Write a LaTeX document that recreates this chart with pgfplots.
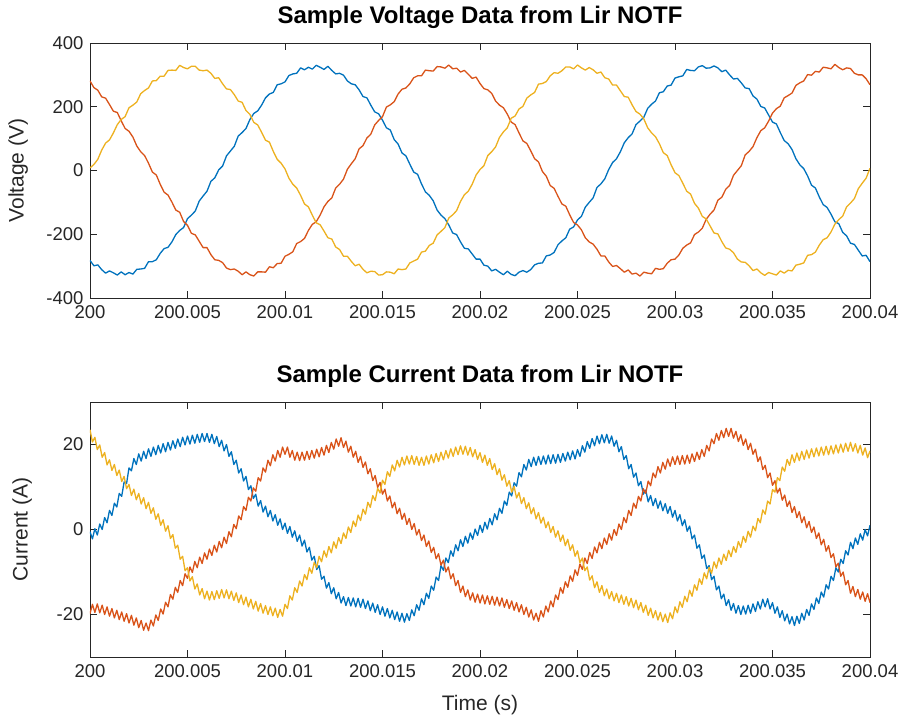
\documentclass[border=0pt]{standalone}
\usepackage{fontspec}
\setmainfont{Liberation Sans}
\usepackage{pgfplots}
\usepackage{pgfplotstable}
\pgfplotsset{compat=1.18}
\definecolor{mblue}{RGB}{0,114,189}
\definecolor{mred}{RGB}{217,83,25}
\definecolor{myellow}{RGB}{237,177,32}
\definecolor{maxis}{RGB}{38,38,38}

\pgfplotstableread{
t a b c
0 -282 281 8
0.2 -299 260 19
0.4 -296 252 35
0.6 -311 231 64
0.8 -322 227 86
1.0 -315 207 96
1.2 -321 186 118
1.4 -328 182 144
1.6 -318 156 160
1.8 -327 132 169
2.0 -320 123 197
2.2 -325 105 205
2.4 -310 77 215
2.6 -309 59 241
2.8 -307 47 251
3.0 -286 23 259
3.2 -286 -5 281
3.4 -280 -14 282
3.6 -260 -43 296
3.8 -245 -68 296
4.0 -241 -77 314
4.2 -224 -99 315
4.4 -201 -124 314
4.6 -188 -131 330
4.8 -179 -160 323
5.0 -151 -172 319
5.2 -140 -197 327
5.4 -127 -202 327
5.6 -96 -222 315
5.8 -80 -242 313
6.0 -65 -242 315
6.2 -34 -264 305
6.4 -23 -280 289
6.6 2 -282 291
6.8 14 -289 272
7.0 46 -306 256
7.2 61 -311 254
7.4 76 -309 238
7.6 108 -316 218
7.8 119 -327 214
8.0 132 -318 188
8.2 160 -327 176
8.4 179 -331 151
8.6 187 -318 143
8.8 205 -318 120
9.0 228 -319 95
9.2 240 -302 89
9.4 245 -305 60
9.6 269 -292 35
9.8 272 -291 23
10.0 278 -269 5
10.2 298 -263 -24
10.4 303 -255 -43
10.6 305 -229 -55
10.8 322 -223 -78
11.0 316 -213 -105
11.2 324 -188 -114
11.4 318 -169 -140
11.6 330 -161 -164
11.8 324 -140 -170
12.0 317 -114 -190
12.2 327 -97 -211
12.4 314 -86 -215
12.6 303 -55 -240
12.8 305 -43 -248
13.0 299 -27 -269
13.2 281 4 -269
13.4 272 21 -285
13.6 269 37 -299
13.8 253 68 -294
14.0 232 78 -310
14.2 228 102 -321
14.4 205 114 -316
14.6 184 143 -317
14.8 178 157 -328
15.0 158 169 -327
15.2 134 199 -318
15.4 127 206 -319
15.6 97 216 -324
15.8 83 240 -309
16.0 55 255 -311
16.2 46 259 -309
16.4 20 272 -290
16.6 -5 291 -284
16.8 -12 297 -278
17.0 -42 297 -256
17.2 -67 315 -253
17.4 -78 313 -235
17.6 -95 312 -228
17.8 -124 326 -202
18.0 -140 325 -191
18.2 -151 321 -179
18.4 -171 331 -149
18.6 -196 319 -139
18.8 -201 321 -126
19.0 -224 309 -97
19.2 -244 314 -76
19.4 -246 302 -65
19.6 -262 289 -43
19.8 -278 293 -14
20.0 -278 273 3
20.2 -297 257 15
20.4 -300 253 47
20.6 -315 242 59
20.8 -310 218 74
21.0 -319 205 104
21.2 -327 197 121
21.4 -316 177 134
21.6 -326 152 164
21.8 -330 144 171
22.0 -319 118 193
22.2 -314 93 201
22.4 -319 85 227
22.6 -311 62 237
22.8 -296 37 245
23.0 -291 27 271
23.2 -290 -3 273
23.4 -268 -18 279
23.6 -265 -47 297
23.8 -257 -56 307
24.0 -233 -81 305
24.2 -221 -105 313
24.4 -211 -112 325
24.6 -184 -139 325
24.8 -177 -163 319
25.0 -155 -171 331
25.2 -144 -186 322
25.4 -115 -211 315
25.6 -100 -224 323
25.8 -86 -231 316
26.0 -53 -247 305
26.2 -42 -268 309
26.4 -26 -268 291
26.6 3 -287 287
26.8 25 -301 268
27.0 37 -298 268
27.2 59 -308 250
27.4 87 -319 232
27.6 103 -312 230
27.8 115 -325 206
28.0 144 -322 185
28.2 155 -331 177
28.4 167 -319 162
28.6 195 -322 134
28.8 208 -324 118
29.0 218 -307 106
29.2 244 -310 84
29.4 247 -308 56
29.6 265 -291 47
29.8 268 -280 18
30.0 290 -278 -7
30.2 294 -265 -16
30.4 297 -244 -40
30.6 317 -234 -65
30.8 314 -227 -74
31.0 313 -201 -103
31.2 325 -193 -118
31.4 329 -181 -144
31.6 321 -153 -152
31.8 322 -137 -174
32.0 328 -124 -196
32.2 322 -93 -199
32.4 310 -84 -223
32.6 315 -59 -243
32.8 300 -47 -247
33.0 287 -15 -258
33.2 289 0 -278
33.4 275 15 -287
33.6 259 49 -288
33.8 257 60 -299
34.0 234 75 -314
34.2 224 103 -309
34.4 201 125 -321
34.6 196 134 -329
34.8 174 155 -320
35.0 152 180 -324
35.2 146 194 -328
35.4 119 202 -315
35.6 94 228 -322
35.8 84 235 -313
36.0 66 243 -315
36.2 37 267 -297
36.4 18 275 -294
36.6 6 281 -290
36.8 -17 301 -266
37.0 -46 299 -264
37.2 -55 311 -256
37.4 -83 309 -234
37.6 -107 324 -217
37.8 -116 322 -211
38.0 -137 319 -193
38.2 -161 333 -168
38.4 -167 323 -154
38.6 -194 316 -143
38.8 -205 322 -114
39.0 -228 320 -102
39.2 -232 305 -88
39.4 -250 300 -57
39.6 -268 300 -40
39.8 -266 288 -24
40.0 -286 269 7
}\voltdata

\pgfplotstableread{
t a b c
0 -0.5 -19.8 23.5
0.125 -2.2 -17.6 20.6
0.25 0.2 -19.5 21.7
0.375 -1.3 -17.5 18.8
0.5 1.3 -19.6 19.9
0.625 0.0 -17.8 17.0
0.75 2.8 -20.0 18.1
0.875 1.6 -18.2 15.2
1 4.5 -20.4 16.4
1.125 3.3 -18.6 13.9
1.25 6.2 -20.8 15.3
1.375 5.3 -19.0 12.7
1.5 8.5 -21.2 14.0
1.625 7.8 -19.4 11.3
1.75 11.2 -21.6 12.5
1.875 10.8 -19.8 9.6
2 14.5 -22.0 10.6
2.125 13.8 -20.2 8.0
2.25 16.7 -22.5 9.5
2.375 15.3 -20.8 7.0
2.5 17.8 -23.1 8.5
2.625 16.1 -21.4 6.0
2.75 18.4 -23.7 7.5
2.875 16.7 -22.0 4.9
3 19.0 -23.8 6.4
3.125 17.2 -21.3 3.8
3.25 19.4 -22.7 5.1
3.375 17.6 -20.1 2.4
3.5 19.8 -21.4 3.7
3.625 18.0 -18.7 1.0
3.75 20.2 -19.9 2.3
3.875 18.3 -17.1 -0.4
4 20.5 -18.2 0.9
4.125 18.7 -15.3 -2.1
4.25 20.9 -16.4 -1.2
4.375 19.1 -13.6 -4.4
4.5 21.3 -14.8 -3.7
4.625 19.5 -12.0 -7.0
4.75 21.7 -13.2 -6.3
4.875 19.9 -10.4 -9.7
5 22.0 -11.5 -9.0
5.125 20.1 -8.8 -12.1
5.25 22.2 -10.1 -11.1
5.375 20.3 -7.5 -14.0
5.5 22.4 -9.0 -12.8
5.625 20.5 -6.5 -15.4
5.75 22.6 -8.0 -13.9
5.875 20.7 -5.5 -16.3
6 22.6 -7.0 -14.5
6.125 20.5 -4.6 -16.6
6.25 22.4 -6.1 -14.6
6.375 20.2 -3.7 -16.5
6.5 21.9 -5.3 -14.4
6.625 19.5 -2.8 -16.2
6.75 21.0 -4.3 -14.1
6.875 18.5 -1.8 -16.1
7 20.0 -3.3 -14.2
7.125 17.2 -0.5 -16.3
7.25 18.3 -1.7 -14.5
7.375 15.3 1.2 -16.7
7.5 16.3 0.2 -14.9
7.625 13.3 3.2 -17.2
7.75 14.3 2.3 -15.4
7.875 11.4 5.4 -17.7
8 12.5 4.5 -15.9
8.125 9.4 7.6 -18.2
8.25 10.3 6.7 -16.4
8.375 7.3 9.8 -18.7
8.5 8.3 9.0 -16.9
8.625 5.5 12.2 -19.2
8.75 6.8 11.4 -17.4
8.875 4.1 14.5 -19.7
9 5.5 13.5 -17.9
9.125 3.0 16.3 -20.0
9.25 4.5 15.0 -18.2
9.375 2.0 17.6 -20.3
9.5 3.5 16.1 -18.5
9.625 1.0 18.6 -20.7
9.75 2.5 17.0 -18.8
9.875 0.0 19.4 -20.4
10 1.5 17.7 -17.6
10.125 -0.9 19.4 -18.6
10.25 0.7 17.0 -15.6
10.375 -1.8 18.6 -16.6
10.5 -0.3 16.3 -13.7
10.625 -2.8 18.2 -14.8
10.75 -1.3 16.2 -12.1
10.875 -3.9 18.2 -13.3
11 -2.5 16.3 -10.6
11.125 -5.3 18.4 -11.8
11.25 -4.2 16.5 -9.0
11.375 -7.2 18.6 -10.3
11.5 -6.3 16.8 -7.7
11.625 -9.4 18.9 -9.0
11.75 -8.5 17.1 -6.3
11.875 -11.7 19.3 -7.6
12 -11.0 17.5 -5.0
12.125 -13.8 19.8 -6.5
12.25 -12.5 18.1 -4.0
12.375 -15.1 20.5 -5.5
12.5 -13.7 18.9 -2.9
12.625 -16.3 21.3 -4.4
12.75 -14.8 19.6 -1.9
12.875 -17.3 21.6 -3.3
13 -15.8 19.3 -0.8
13.125 -17.9 20.8 -2.1
13.25 -16.0 18.2 0.6
13.375 -18.0 19.6 -0.7
13.5 -16.1 17.0 2.0
13.625 -18.2 18.4 0.7
13.75 -16.2 15.8 3.4
13.875 -18.3 17.2 2.1
14 -16.4 14.6 4.8
14.125 -18.6 15.9 3.6
14.25 -16.8 13.1 6.4
14.375 -19.1 14.3 5.2
14.5 -17.3 11.5 8.0
14.625 -19.5 12.7 6.8
14.75 -17.7 9.9 9.7
14.875 -20.0 11.1 8.6
15 -18.2 8.3 11.6
15.125 -20.4 9.5 10.6
15.25 -18.6 6.7 13.6
15.375 -20.8 7.9 12.5
15.5 -19.0 5.1 15.2
15.625 -21.2 6.4 13.8
15.75 -19.4 3.7 16.3
15.875 -21.6 5.0 14.7
16 -19.7 2.4 17.0
16.125 -21.8 3.8 15.2
16.25 -19.8 1.2 17.3
16.375 -21.4 2.6 15.4
16.5 -18.9 0.0 17.4
16.625 -20.3 1.4 15.3
16.75 -17.7 -1.3 17.2
16.875 -19.0 0.0 15.1
17 -16.3 -2.6 17.0
17.125 -17.7 -1.3 15.1
17.25 -15.0 -4.0 17.3
17.375 -16.2 -2.7 15.4
17.5 -13.3 -5.4 17.6
17.625 -14.3 -4.2 15.7
17.75 -11.2 -6.9 17.9
17.875 -12.0 -5.7 16.0
18 -8.5 -8.4 18.2
18.125 -9.6 -7.2 16.4
18.25 -6.7 -10.0 18.6
18.375 -7.8 -8.8 16.8
18.5 -5.0 -11.6 19.0
18.625 -6.3 -10.4 17.2
18.75 -3.6 -13.2 19.4
18.875 -5.0 -12.0 17.6
19 -2.4 -14.8 19.7
19.125 -4.0 -13.3 17.7
19.25 -1.6 -15.8 19.6
19.375 -3.2 -14.2 17.5
19.5 -0.8 -16.6 19.3
19.625 -2.3 -14.9 17.1
19.75 0.1 -17.1 18.8
19.875 -1.4 -15.2 16.5
20 1.0 -17.3 18.1
20.125 -0.7 -15.4 15.8
20.25 1.7 -17.5 17.5
20.375 0.1 -15.6 15.1
20.5 2.6 -17.6 16.7
20.625 1.1 -15.7 14.1
20.75 3.7 -17.8 15.5
20.875 2.3 -15.9 12.9
21 5.0 -18.0 14.3
21.125 3.8 -16.1 11.6
21.25 6.7 -18.3 12.9
21.375 5.7 -16.5 10.2
21.5 8.8 -18.6 11.5
21.625 7.9 -16.8 8.8
21.75 11.0 -19.0 10.1
21.875 10.2 -17.2 7.4
22 13.4 -19.4 8.7
22.125 12.4 -17.7 6.1
22.25 15.3 -20.0 7.5
22.375 14.0 -18.3 4.9
22.5 16.5 -20.6 6.3
22.625 14.8 -18.9 3.7
22.75 17.0 -21.3 5.1
22.875 15.1 -19.7 2.5
23 17.2 -21.6 4.0
23.125 15.3 -19.1 1.5
23.25 17.3 -20.6 2.9
23.375 15.4 -18.0 0.4
23.5 17.5 -19.4 1.8
23.625 15.5 -16.8 -0.7
23.75 17.6 -18.2 0.7
23.875 15.6 -15.4 -1.8
24 17.7 -16.5 -0.3
24.125 15.8 -13.7 -2.8
24.25 17.9 -15.0 -1.3
24.375 16.1 -12.3 -3.8
24.5 18.2 -13.6 -2.3
24.625 16.4 -10.9 -4.9
24.75 18.5 -12.2 -3.6
24.875 16.6 -9.5 -6.3
25 18.8 -10.8 -5.0
25.125 17.2 -8.1 -7.8
25.25 19.7 -9.4 -6.7
25.375 18.2 -6.7 -9.7
25.5 20.7 -8.0 -8.8
25.625 19.1 -5.4 -11.9
25.75 21.4 -6.8 -10.9
25.875 19.7 -4.1 -13.7
26 22.0 -5.5 -12.3
26.125 20.2 -3.0 -14.8
26.25 22.3 -4.5 -13.2
26.375 20.4 -2.0 -15.6
26.5 22.4 -3.5 -14.0
26.625 20.3 -1.0 -16.3
26.75 22.0 -2.5 -14.6
26.875 19.6 0.0 -16.8
27 21.0 -1.4 -15.0
27.125 18.3 1.3 -17.2
27.25 19.5 0.0 -15.4
27.375 16.5 2.8 -17.6
27.5 17.4 1.6 -15.8
27.625 14.3 4.5 -18.0
27.75 15.3 3.3 -16.2
27.875 12.3 6.2 -18.4
28 13.3 5.0 -16.6
28.125 10.3 7.8 -18.9
28.25 11.3 6.7 -17.2
28.375 8.3 9.6 -19.5
28.5 9.3 8.5 -17.8
28.625 6.5 11.4 -20.2
28.75 8.0 10.3 -18.5
28.875 5.6 13.3 -20.8
29 7.3 12.2 -19.1
29.125 5.0 14.8 -21.3
29.25 6.7 13.3 -19.5
29.375 4.4 15.8 -21.7
29.5 6.1 14.2 -19.9
29.625 3.8 16.6 -21.9
29.75 5.4 14.9 -19.6
29.875 2.9 17.1 -21.0
30 4.5 15.3 -18.2
30.125 2.0 17.3 -19.6
30.25 3.5 15.3 -17.0
30.375 0.9 17.4 -18.3
30.5 2.3 15.4 -15.7
30.625 -0.4 17.5 -17.0
30.75 0.8 15.6 -14.3
30.875 -2.2 17.8 -15.7
31 -1.3 16.0 -13.0
31.125 -4.4 18.2 -14.3
31.25 -3.6 16.5 -11.6
31.375 -6.8 18.8 -12.9
31.5 -6.0 17.2 -10.2
31.625 -9.2 19.8 -11.6
31.75 -8.5 18.5 -8.9
31.875 -11.8 21.3 -10.3
32 -11.0 20.2 -7.6
32.125 -14.2 22.6 -9.1
32.25 -13.3 21.0 -6.7
32.375 -16.3 23.3 -8.2
32.5 -15.2 21.6 -5.8
32.625 -17.9 23.8 -7.3
32.75 -16.5 21.9 -4.9
32.875 -19.0 23.8 -6.4
33 -17.4 21.5 -4.0
33.125 -19.7 23.1 -5.4
33.25 -17.9 20.7 -2.8
33.375 -20.0 22.3 -4.2
33.5 -18.0 19.8 -1.6
33.625 -19.9 21.3 -3.0
33.75 -17.8 18.8 -0.4
33.875 -19.7 20.3 -1.8
34 -17.5 17.7 0.8
34.125 -19.3 18.9 -0.3
34.25 -17.0 16.0 2.6
34.375 -18.7 17.1 1.6
34.5 -16.4 14.1 4.6
34.625 -18.2 15.1 3.6
34.75 -16.3 12.2 6.7
34.875 -18.7 13.3 6.0
35 -17.2 10.4 9.4
35.125 -19.7 11.5 8.8
35.25 -18.2 8.6 12.2
35.375 -20.7 9.7 11.5
35.5 -19.1 6.9 14.7
35.625 -21.5 8.1 13.7
35.75 -19.9 5.4 16.5
35.875 -22.2 6.7 15.1
36 -20.5 4.0 17.6
36.125 -22.6 5.4 15.8
36.25 -20.4 2.8 18.0
36.375 -22.1 4.2 16.2
36.5 -19.7 1.6 18.4
36.625 -21.3 3.0 16.5
36.75 -18.8 0.4 18.7
36.875 -20.2 1.9 16.8
37 -17.5 -0.7 19.0
37.125 -18.8 0.6 17.1
37.25 -16.1 -2.1 19.2
37.375 -17.4 -0.8 17.3
37.5 -14.7 -3.6 19.4
37.625 -15.9 -2.3 17.5
37.75 -13.0 -5.1 19.6
37.875 -14.0 -3.8 17.6
38 -11.0 -6.6 19.7
38.125 -12.0 -5.7 17.8
38.25 -9.0 -8.8 19.9
38.375 -10.0 -7.9 18.0
38.5 -7.0 -11.0 20.1
38.625 -8.0 -10.0 18.2
38.75 -5.0 -13.0 20.3
38.875 -6.0 -12.0 18.4
39 -3.0 -15.0 20.5
39.125 -4.5 -13.4 18.4
39.25 -2.0 -15.8 20.2
39.375 -3.5 -14.1 18.0
39.5 -1.0 -16.4 19.8
39.625 -2.5 -14.7 17.5
39.75 0.0 -16.9 19.2
39.875 -1.5 -15.1 16.9
40 1.0 -17.2 18.5
}\curdata

\pgfplotsset{
  mstyle/.style={
    width=780pt, height=255pt, scale only axis,
    xmin=0, xmax=40,
    xtick={0,5,10,15,20,25,30,35,40},
    xticklabels={200,200.005,200.01,200.015,200.02,200.025,200.03,200.035,200.04},
    tick align=inside,
    major tick length=7pt,
    axis line style={maxis, line width=0.8pt},
    tick style={maxis, line width=0.8pt},
    tick label style={font=\fontsize{18.5}{18.5}\selectfont, text=maxis},
    xticklabel style={yshift=-4pt},
    yticklabel style={xshift=-3pt},
    label style={font=\fontsize{21}{21}\selectfont, text=maxis},
    title style={font=\bfseries\fontsize{24}{24}\selectfont, text=black, at={(axis description cs:0.5,1)}, anchor=center, yshift=20pt},
    every axis plot/.append style={line width=1.3pt, line join=round},
  }
}

\begin{document}
\begin{tikzpicture}
\path[use as bounding box] (-90pt,-426pt) rectangle (817pt,298pt);
\begin{axis}[mstyle, at={(0pt,0pt)}, anchor=south west,
  ymin=-400, ymax=400, ytick={-400,-200,0,200,400},
  yticklabels={-400,-200,0,200,400},
  ylabel={Voltage (V)},
  ylabel style={at={(axis description cs:-0.092,0.5)}, anchor=center},
  title={Sample Voltage Data from Lir NOTF}]
\addplot[mblue] table[x=t,y=a]{\voltdata};
\addplot[mred] table[x=t,y=b]{\voltdata};
\addplot[myellow] table[x=t,y=c]{\voltdata};
\end{axis}
\begin{axis}[mstyle, at={(0pt,-359pt)}, anchor=south west,
  ymin=-30, ymax=30, ytick={-20,0,20},
  yticklabels={-20,0,20},
  ylabel={Current (A)},
  ylabel style={at={(axis description cs:-0.087,0.5)}, anchor=center},
  xlabel={Time (s)},
  xlabel style={at={(axis description cs:0.5,0)}, anchor=center, yshift=-48pt},
  title={Sample Current Data from Lir NOTF}]
\addplot[mblue] table[x=t,y=a]{\curdata};
\addplot[mred] table[x=t,y=b]{\curdata};
\addplot[myellow] table[x=t,y=c]{\curdata};
\end{axis}
\end{tikzpicture}
\end{document}
